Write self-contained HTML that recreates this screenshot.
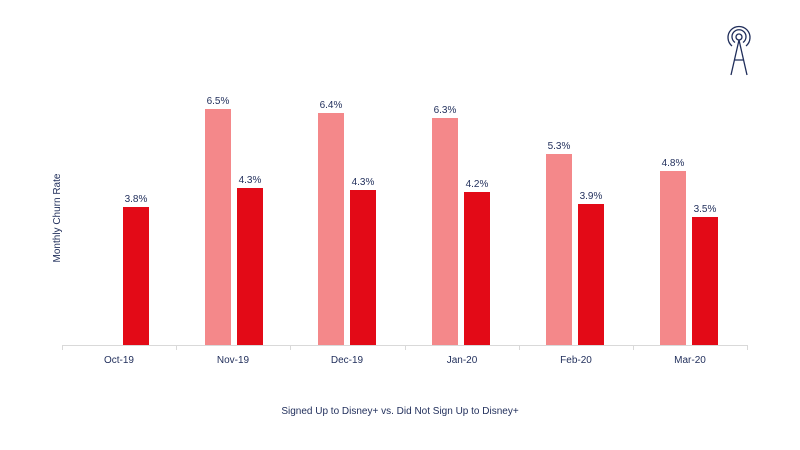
<!DOCTYPE html>
<html><head><meta charset="utf-8"><style>
html,body{margin:0;padding:0;background:#fff;}
svg{display:block;font-family:"Liberation Sans",sans-serif;}
</style></head><body>
<svg width="800" height="450" viewBox="0 0 800 450" xmlns="http://www.w3.org/2000/svg">
<rect width="800" height="450" fill="#fff"/>
<g fill="#f4888a">
<rect x="205" y="109" width="26" height="236"/>
<rect x="318" y="113" width="26" height="232"/>
<rect x="432" y="118" width="26" height="227"/>
<rect x="546" y="154" width="26" height="191"/>
<rect x="660" y="171" width="26" height="174"/>
</g>
<g fill="#e30a17">
<rect x="123" y="207" width="26" height="138"/>
<rect x="237" y="188" width="26" height="157"/>
<rect x="350" y="190" width="26" height="155"/>
<rect x="464" y="192" width="26" height="153"/>
<rect x="578" y="204" width="26" height="141"/>
<rect x="692" y="217" width="26" height="128"/>
</g>
<g stroke="#d9d9d9" stroke-width="1">
<line x1="62" y1="345.5" x2="747" y2="345.5"/>
<line x1="62.5" y1="345" x2="62.5" y2="350"/>
<line x1="176.5" y1="345" x2="176.5" y2="350"/>
<line x1="290.5" y1="345" x2="290.5" y2="350"/>
<line x1="405.5" y1="345" x2="405.5" y2="350"/>
<line x1="519.5" y1="345" x2="519.5" y2="350"/>
<line x1="633.5" y1="345" x2="633.5" y2="350"/>
<line x1="747.5" y1="345" x2="747.5" y2="350"/>
</g>
<g fill="#1f2d5a" font-size="10" text-anchor="middle">
<text x="136" y="202">3.8%</text>
<text x="218" y="104">6.5%</text>
<text x="250" y="183">4.3%</text>
<text x="331" y="108">6.4%</text>
<text x="363" y="185">4.3%</text>
<text x="445" y="113">6.3%</text>
<text x="477" y="187">4.2%</text>
<text x="559" y="149">5.3%</text>
<text x="591" y="199">3.9%</text>
<text x="673" y="166">4.8%</text>
<text x="705" y="212">3.5%</text>
<text x="119" y="363">Oct-19</text>
<text x="233" y="363">Nov-19</text>
<text x="347" y="363">Dec-19</text>
<text x="462" y="363">Jan-20</text>
<text x="576" y="363">Feb-20</text>
<text x="690" y="363">Mar-20</text>
<text x="400" y="414">Signed Up to Disney+ vs. Did Not Sign Up to Disney+</text>
<text transform="translate(60,218) rotate(-90)">Monthly Churn Rate</text>
</g>
<g stroke="#1f2d5a" stroke-width="1.3" fill="none">
<circle cx="739" cy="37" r="3"/>
<path d="M735 42.5 A7 7 0 1 1 743 42.5"/>
<path d="M732 46 A11 11 0 1 1 746 46"/>
<path d="M739 40 L731 75 M739 40 L747 75 M735 60 L743 60"/>
</g>
</svg>
</body></html>
